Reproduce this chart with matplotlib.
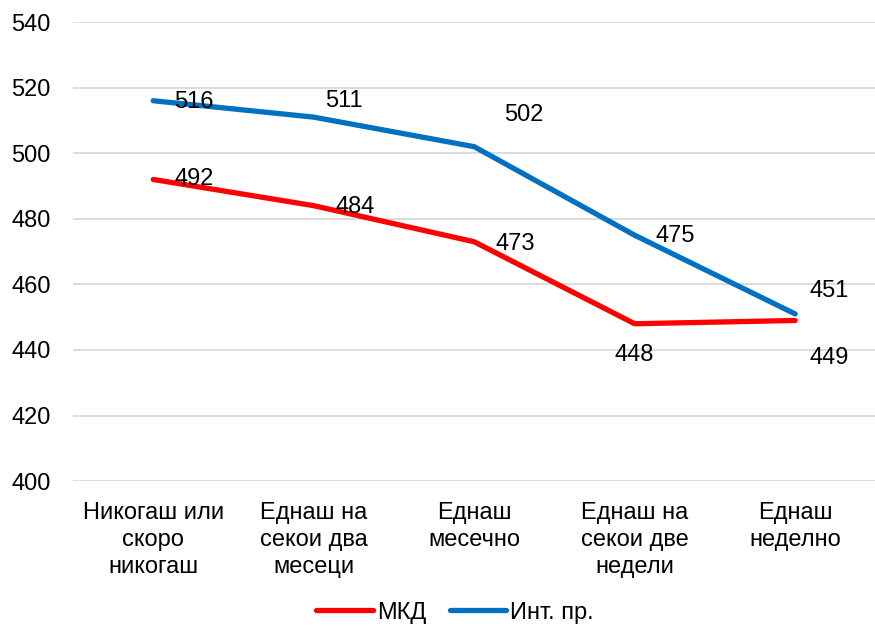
import matplotlib
matplotlib.use("Agg")
import matplotlib.pyplot as plt

categories = ["Никогаш или\nскоро\nникогаш", "Еднаш на\nсекои два\nмесеци", "Еднаш\nмесечно",
              "Еднаш на\nсекои две\nнедели", "Еднаш\nнеделно"]
mkd = [492, 484, 473, 448, 449]
intl = [516, 511, 502, 475, 451]
series_names = ["МКД", "Инт. пр."]

plt.rcParams["font.family"] = ["Liberation Sans", "DejaVu Sans"]
FS = 17
plt.rcParams["font.size"] = FS

fig = plt.figure(figsize=(8.75, 6.29), dpi=100)
ax = fig.add_axes([0.0834, 0.235, 0.917, 0.73])

x = list(range(len(categories)))
ax.plot(x, mkd, color="#FF0000", lw=3.8, solid_capstyle="round", label=series_names[0], zorder=3)
ax.plot(x, intl, color="#0070C0", lw=3.8, solid_capstyle="round", label=series_names[1], zorder=3)

# label offsets in points (dx, dy)
mkd_off = [(29.5, 0), (30, -1), (29.5, -1.5), (0, -22.5), (24.5, -27)]
intl_off = [(29.5, -1), (21.6, 11.5), (36, 22.5), (29, -0.5), (24.5, 16.5)]
for xs, ys, offs in ((x, mkd, mkd_off), (x, intl, intl_off)):
    for xi, yi, (dx, dy) in zip(xs, ys, offs):
        ax.annotate(str(yi), (xi, yi), xytext=(dx, dy), textcoords="offset points",
                    ha="center", va="center", fontsize=FS, color="black", zorder=4)

ax.set_xlim(-0.5, len(categories) - 0.5)
ax.set_ylim(400, 540)
ax.set_yticks(range(400, 541, 20))
ax.set_xticks(x)
ax.set_xticklabels(categories, linespacing=1.28)
ax.grid(axis="y", color="#D9D9D9", lw=1.3)
ax.set_axisbelow(True)
for s in ax.spines.values():
    s.set_visible(False)
ax.tick_params(axis="both", length=0, labelsize=FS)
ax.tick_params(axis="y", pad=16)
ax.tick_params(axis="x", pad=15)

fig.legend(*ax.get_legend_handles_labels(), loc="center", bbox_to_anchor=(0.52, 0.026),
           ncol=2, frameon=False, handlelength=2.4, handletextpad=0.15,
           columnspacing=1.0, fontsize=FS, borderaxespad=0, borderpad=0)

fig.savefig("out.png", dpi=100, facecolor="white")
